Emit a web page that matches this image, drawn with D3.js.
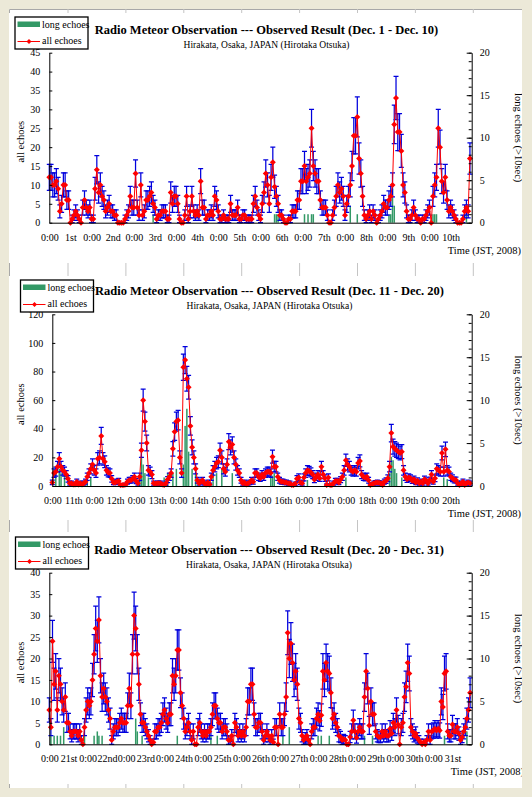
<!DOCTYPE html>
<html>
<head>
<meta charset="utf-8">
<script src="https://cdn.jsdelivr.net/npm/d3@7"></script>
<style>
  body { margin: 0; background: #ece9d8; }
  svg { display: block; }
  text { font-family: "Liberation Serif", "Times New Roman", serif; }
</style>
</head>
<body>
<svg id="chart" width="532" height="797"></svg>
<script>
// hourly counts of all echoes, one row per day
const allEchoes1 = [
  12,12,10,10,11,9,3,5,10,10,6,6,0,1,2,3,2,1,0,4,6,4,3,4,
  1,1,9,14,8,10,7,6,3,4,5,3,3,2,2,0,0,0,0,1,2,3,7,4,
  4,13,4,2,10,2,3,6,6,7,8,5,4,1,2,2,3,3,3,1,1,8,5,7,
  7,5,1,0,0,2,7,1,3,7,3,2,3,2,11,4,4,1,2,2,3,2,7,6,
  3,1,1,2,1,1,1,5,2,2,2,4,1,1,2,2,1,1,1,1,5,7,4,2,
  1,5,8,13,10,5,12,16,9.5,7,5,2,2,1,0,0,1,1,3,3,3,6,6,11,
  11,15,11,12,13,25,15,13,11,11,6,4,4,4,2,0,0,2,4,7,10,8,9,7,
  2,5,7,10,15,23,23,28,17,13,7,2,1,2,3,1,3,2,0,1,2,3,5,4,
  4,6,7,10,26,33,24,24,19,10,8,3,1,1,2,4,2,1,1,0,1,1,2,3,
  4,0,7,10,12,25,20,11,8,12,6,3,4,3,2,1,0,0,0,1,3,4,3,17
];
const allEchoes2 = [
  2.5,9,10,13.5,19,13.5,11,10,8,5,2,2,1,1,3,1,2,1,2,3,6.5,9,12,15,
  11,9,19,20,35,19,17,11,9.5,9,5,2.5,2.5,3,3.5,0.7,0.7,0.7,1,3,4,4,5,6.5,
  3.5,2,6.5,25,60,45,30,11,10,8,2,1.5,2,2,2,1,0.7,2,4.5,6.5,9,26,38,45,
  46,20,9,83,88,75,69,42,27,20,12,4,2,3,4,2,1,2.5,1,6.5,11,13.5,16,17,
  25,20,12,10,15,31,27,29,20,15,11,9,4,2,2.5,1,2,2.5,4,3,9,9,6.5,5.5,
  8,6.5,9,10,10,9,20.5,13.5,13.5,6.5,4,3,3,2.5,2.5,2,2,0.7,0.7,1.5,5,6,2.5,2,
  6,9,11,10.5,9.5,8,4.5,6.5,8,5.5,13.5,8,5.5,0.7,6,0.7,0.7,2,3.5,3.5,2.5,4.5,6.5,11,
  18,15,13.5,11,10,11,10,16,17.5,8,6.5,6,6.5,4,0.7,1.2,2,2.3,2.5,2.3,2,0.7,3,3.7,
  5.4,13.5,37,27.5,26,25,24,23,24,11,6.5,4.7,6,5.4,3.7,4.7,2.5,3.7,2,3,2,4.7,3.7,2,
  4.2,8,3,5.4,12,11,10,23,10,25.6,11,10,6.5,5.4,4.2,4.2,2,0.7,2,3,0.7,2,2.5,2
];
const allEchoes3 = [
  8,4,24,14,17,8,16,14,10,8,11,5,5,3,2,3,3,3,2,3,1,0,4,8,
  10,9,10,15,21,27,24,29,16,11,13,11,10,8,6,1,3,4,4,4,5,6,5,5,
  5,9,13,9,21,30,27,21,14,7,5,5,4,3,2,1,0,0.5,3,3,4,4,5,7,
  8,6,5,7,7,16,14,16,22,22,12,9,6,3,4,5,3,1,3,0,0,4,5,3,
  2,3,2,3,3,4,7,9,9,6,5,5,3,4,4,3,1,1,2,0,5,4,2,3,
  2,3,2,4,10,10,14,14,7,4,4,5,5,3,1,2,3,2,1,2,0.5,4,4,0,
  7,4,4,7,11,26,20,23.5,19,15,17,14,6,5,2,1,1.5,2,1,0,3,4,4,6,
  7,5.5,6.8,17,15,19,17,16.5,12,6,7,5,4,2,1.7,1,1.2,1,0,0,1.7,3,5.6,3,
  1.5,3,4,3,3,11,17,13,4.4,10,7,7,3,2,1.7,1.7,3,2,3,2,2,3.6,2.5,5,
  4,8,4.6,0,4,5,11,13.4,19,16.5,4,3,2,2.5,1.5,1,0.5,0,0.5,0,1,3,1,3,
  3.2,3.6,3.2,3.6,3.2,10,8.7,16.5,17,3,2,2,4.6,3,3,4,2.5,1,1.7,3,4,6,8,12
];

// long echoes (>10 sec): hour index and count
const longHours1 = [59,128,129,130,145,147,149,150,171,175,193,194,195,196,218,219,220,237];
const longVals1  = [1,1,1,1,1,1,1,1,2,1,1,1,4,2,1,1,1,1];
const longHours2 = [2,4,5,7,20,22,50,51,52,53,55,64,66,69,71,75,76,77,78,80,82,92,94,97,103,125,126,127,136,146,168,193,194,195,196,197,200,224,226];
const longVals2  = [1.5,2,1.5,1.2,1,1,1.5,3.4,2.5,1.5,1,1,1.5,1.5,2,2.5,7,9,4,2,1.5,1.5,1.5,2,1.5,1.7,1.2,1.5,0.5,0.7,1,1.5,3.4,3,2,1.5,1,1,0.8];
const longHours3 = [1,3,5,7,9,22,28,30,31,33,54,55,58,80,101,105,146,150,160,168,170,175,197,202,247,261];
const longVals3  = [1,1,1,1,2,1,1,1.5,1,1,3,1.5,1,1,1,1,1,2,1,1,1,1,1,1,1,1.5];

const titles = [
  "Radio Meteor Observation --- Observed Result (Dec. 1 - Dec. 10)",
  "Radio Meteor Observation --- Observed Result (Dec. 11 - Dec. 20)",
  "Radio Meteor Observation --- Observed Result (Dec. 20 - Dec. 31)"
];
const subtitle = "Hirakata, Osaka, JAPAN (Hirotaka Otsuka)";
const firstDays = [1, 11, 21];
const leftMax = [45, 120, 40];
const leftStep = [5, 20, 5];
const rightMax = 20;

const SERIF = "Liberation Serif, Times New Roman, serif";
const svg = d3.select("#chart");

// sheet background with cell gridlines showing between the charts
svg.append("rect").attr("x", 9).attr("y", 9).attr("width", 513).attr("height", 779).attr("fill", "#fff");
svg.append("path").attr("d", "M9.5,788V9.5H522").attr("fill", "none").attr("stroke", "#a8a8a8");
svg.selectAll("line.grid").data(d3.range(68, 522, 57.9)).join("line")
  .attr("x1", d => d).attr("x2", d => d).attr("y1", 9).attr("y2", 788)
  .attr("stroke", "#c4c4c4");

const layout = [
  { top: 13, bottom: 263, x0: 49.3, yTop: 52.7, yBot: 222.7, titleX: 266.5, titleY: 34, legend: [15, 17] },
  { top: 276, bottom: 520, x0: 52.3, yTop: 314.3, yBot: 486, titleX: 269.5, titleY: 295, legend: [20.5, 280] },
  { top: 532, bottom: 784, x0: 49.3, yTop: 572.7, yBot: 744.3, titleX: 269, titleY: 554, legend: [15.5, 537] }
];
const panels = [
  { values: allEchoes1, lh: longHours1, lv: longVals1 },
  { values: allEchoes2, lh: longHours2, lv: longVals2 },
  { values: allEchoes3, lh: longHours3, lv: longVals3 }
];

function ordinal(d) {
  const s = (d % 10 === 1 && d !== 11) ? "st" : (d % 10 === 2 && d !== 12) ? "nd" : (d % 10 === 3 && d !== 13) ? "rd" : "th";
  return d + s;
}

function serif(sel, size) {
  return sel.attr("font-family", SERIF).attr("font-size", size);
}

panels.forEach((p, i) => {
  const L = layout[i];
  const N = p.values.length;
  const x1 = 471.7;

  svg.append("clipPath").attr("id", "clip" + i)
    .append("rect").attr("x", 9).attr("y", L.top).attr("width", 513).attr("height", L.bottom - L.top);
  const g = svg.append("g").attr("clip-path", `url(#clip${i})`);
  g.append("rect").attr("x", 9).attr("y", L.top).attr("width", 513).attr("height", L.bottom - L.top).attr("fill", "#fff");

  const x = d3.scaleLinear().domain([0, N]).range([L.x0, x1]);
  const y = d3.scaleLinear().domain([0, leftMax[i]]).range([L.yBot, L.yTop]);
  const y2 = d3.scaleLinear().domain([0, rightMax]).range([L.yBot, L.yTop]);

  // long echoes
  g.append("g").selectAll("rect").data(p.lh).join("rect")
    .attr("x", h => x(h) - 0.75).attr("width", 1.5)
    .attr("y", (h, j) => y2(p.lv[j])).attr("height", (h, j) => L.yBot - y2(p.lv[j]))
    .attr("fill", "#339966");

  // error bars (counting error)
  const eb = g.append("g").attr("stroke", "#0000dd").attr("stroke-width", 1.25).attr("fill", "none");
  eb.selectAll("path").data(p.values.map((v, h) => [h, v]).filter(d => d[1] > 0)).join("path")
    .attr("d", ([h, v]) => {
      const e = Math.sqrt(v);
      const cx = x(h), ya = y(Math.max(0, v - e)), yb = y(v + e);
      return `M${cx},${ya}V${yb}M${cx - 2.5},${yb}H${cx + 2.5}M${cx - 2.5},${ya}H${cx + 2.5}`;
    });

  // all echoes line + markers
  g.append("path").datum(p.values)
    .attr("d", d3.line().x((v, h) => x(h)).y(v => y(v)))
    .attr("fill", "none").attr("stroke", "#ff0000").attr("stroke-width", 1);
  g.append("g").selectAll("path").data(p.values).join("path")
    .attr("transform", (v, h) => `translate(${x(h)},${y(v)})`)
    .attr("d", "M0,-3L3,0L0,3L-3,0Z")
    .attr("fill", "#ff0000");

  // axes
  const ax = g.append("g");
  serif(ax.append("g").attr("transform", `translate(${L.x0},0)`)
    .call(d3.axisLeft(y).tickValues(d3.range(0, leftMax[i] + 1, leftStep[i])).tickSizeInner(-3).tickSizeOuter(0).tickPadding(9)), 10);
  serif(ax.append("g").attr("transform", `translate(${x1},0)`)
    .call(d3.axisRight(y2).tickValues(d3.range(0, 21, 5)).tickSizeInner(-5).tickSizeOuter(0).tickPadding(8)), 10);
  ax.append("g").attr("transform", `translate(${x1},0)`)
    .call(d3.axisRight(y2).tickValues(d3.range(0, 21, 1)).tickSize(-3).tickFormat(""))
    .call(s => s.select(".domain").remove());
  serif(ax.append("g").attr("transform", `translate(0,${L.yBot})`)
    .call(d3.axisBottom(x).tickValues(d3.range(0, N, 12)).tickSize(0).tickPadding(11)
      .tickFormat(h => (h % 24 === 0) ? "0:00" : ordinal(firstDays[i] + Math.floor(h / 24)))), 10);
  ax.selectAll("text").attr("fill", "#000");
  ax.selectAll("line, path").attr("stroke", "#000");

  // axis titles
  serif(g.append("text"), 10.5).attr("transform", `translate(24,${(L.yTop + L.yBot) / 2 + 4}) rotate(-90)`)
    .attr("text-anchor", "middle").text("all echoes");
  serif(g.append("text"), 10.5).attr("transform", `translate(515,${(L.yTop + L.yBot) / 2}) rotate(90)`)
    .attr("text-anchor", "middle").text("long echoes (>10sec)");
  serif(g.append("text"), 10.5).attr("x", i === 2 ? 524 : 521).attr("y", L.yBot + 31)
    .attr("text-anchor", "end").text("Time (JST, 2008)");

  // titles
  serif(g.append("text"), 12.5).attr("x", L.titleX).attr("y", L.titleY)
    .attr("text-anchor", "middle").attr("font-weight", "bold")
    .text(titles[i]);
  serif(g.append("text"), 9.5).attr("x", L.titleX).attr("y", L.titleY + 14)
    .attr("text-anchor", "middle")
    .text(subtitle);

  // legend
  const [lx, ly] = L.legend;
  const lg = g.append("g").attr("transform", `translate(${lx},${ly})`);
  lg.append("rect").attr("width", 73).attr("height", 32).attr("fill", "#fff").attr("stroke", "#000").attr("stroke-width", 1.3);
  lg.append("rect").attr("x", 2.5).attr("y", 4.5).attr("width", 22.5).attr("height", 5.5).attr("fill", "#339966");
  serif(lg.append("text"), 10).attr("x", 27).attr("y", 10.5).text("long echoes");
  lg.append("line").attr("x1", 2.5).attr("x2", 25).attr("y1", 24.5).attr("y2", 24.5).attr("stroke", "#ff0000");
  lg.append("path").attr("transform", "translate(14,24.5)").attr("d", "M0,-2.5L2.5,0L0,2.5L-2.5,0Z").attr("fill", "#ff0000");
  serif(lg.append("text"), 10).attr("x", 27).attr("y", 27).text("all echoes");
});
</script>
</body>
</html>
